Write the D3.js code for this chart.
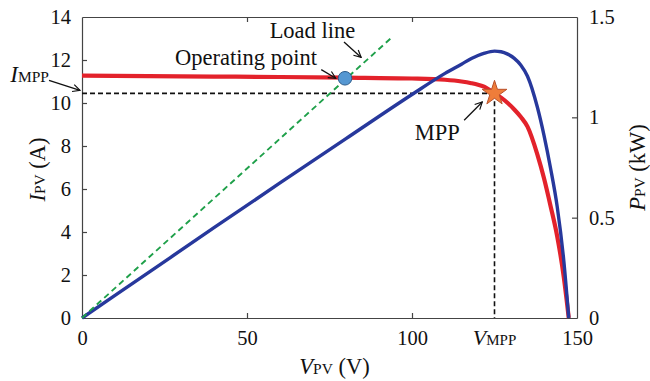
<!DOCTYPE html>
<html>
<head>
<meta charset="utf-8">
<script src="https://cdn.jsdelivr.net/npm/d3@7"></script>
<style>
  body { margin: 0; background: #fff; }
  svg text { font-family: "Liberation Serif", serif; }
</style>
</head>
<body>
<div class="responsive-svg-container"></div>
<script>
// values
const voltage = [0, 20, 40, 60, 80, 100, 110, 115, 118, 120, 122, 125, 127, 129, 131, 133, 135, 138, 140, 142, 144, 146, 147.5];
const current = [11.27, 11.25, 11.23, 11.21, 11.18, 11.14, 11.08, 11.0, 10.92, 10.85, 10.75, 10.45, 10.25, 10.0, 9.7, 9.35, 8.9, 7.6, 6.5, 5.2, 3.8, 1.9, 0];
const power   = [0, 0.225, 0.45, 0.673, 0.894, 1.114, 1.219, 1.265, 1.293, 1.308, 1.32, 1.33, 1.327, 1.315, 1.294, 1.26, 1.205, 1.05, 0.91, 0.745, 0.555, 0.285, 0];

const loadLine = [[0, 0], [93.5, 13.0]];   // V, A
const operatingPoint = [79.7, 11.15];
const mpp = [125, 10.45];

const xTicks = [0, 50, 100, 150];
const yLeftTicks = [0, 2, 4, 6, 8, 10, 12, 14];
const yRightTicks = [0, 0.5, 1, 1.5];

const width = 650, height = 381;
const margin = {top: 17, bottom: 63, left: 82, right: 73};
const serif = "Liberation Serif, serif";

const svg = d3.select(".responsive-svg-container")
  .append("svg")
  .attr("width", width)
  .attr("height", height)
  .attr("viewBox", `0 0 ${width} ${height}`);

const xScale = d3.scaleLinear().domain([0, 150]).range([margin.left, width - margin.right]);
const yScale = d3.scaleLinear().domain([0, 14]).range([height - margin.bottom, margin.top]);
const pScale = d3.scaleLinear().domain([0, 1.5]).range([height - margin.bottom, margin.top]);

const ivData = voltage.map((v, i) => ({v: v, i: current[i]}));
const pvData = voltage.map((v, i) => ({v: v, p: power[i]}));

// arrow marker
svg.append("defs").append("marker")
  .attr("id", "arrow")
  .attr("viewBox", "0 0 10 10")
  .attr("refX", 9).attr("refY", 5)
  .attr("markerWidth", 9).attr("markerHeight", 9)
  .attr("markerUnits", "userSpaceOnUse")
  .attr("orient", "auto")
  .append("path")
  .attr("d", "M1,1 L9,5 L1,9")
  .attr("fill", "none")
  .attr("stroke", "#111")
  .attr("stroke-width", 1.3);

// axes (MATLAB style box, ticks inward)
const tickLen = 5;
const axisColor = "#444";
const fs = 20.5;

const bottomAxis = d3.axisBottom(xScale).tickValues(xTicks).tickSizeInner(-tickLen).tickSizeOuter(0).tickPadding(12);
const topAxis = d3.axisTop(xScale).tickValues(xTicks).tickSizeInner(-tickLen).tickSizeOuter(0).tickFormat("");
const leftAxis = d3.axisLeft(yScale).tickValues(yLeftTicks).tickSizeInner(-tickLen).tickSizeOuter(0).tickPadding(11);
const rightAxis = d3.axisRight(pScale).tickValues(yRightTicks).tickSizeInner(-tickLen).tickSizeOuter(0).tickPadding(12)
  .tickFormat(d => d);

svg.append("g").attr("transform", `translate(0,${height - margin.bottom})`).call(bottomAxis);
svg.append("g").attr("transform", `translate(0,${margin.top})`).call(topAxis);
svg.append("g").attr("transform", `translate(${margin.left},0)`).call(leftAxis);
svg.append("g").attr("transform", `translate(${width - margin.right},0)`).call(rightAxis);

svg.selectAll(".domain, .tick line").attr("stroke", axisColor).attr("stroke-width", 1.2);
svg.selectAll(".tick text")
  .attr("font-size", fs)
  .attr("font-family", serif)
  .attr("fill", "#111");
// hide the end ticks touching the corners
svg.selectAll(".tick line").filter(d => d === 0 || d === 150 || d === 14 || d === 1.5).remove();

// V_MPP label on the x axis
const vmppLabel = svg.append("text")
  .attr("x", xScale(mpp[0]))
  .attr("y", height - margin.bottom + 27)
  .attr("text-anchor", "middle")
  .attr("font-family", serif)
  .attr("fill", "#111");
vmppLabel.append("tspan").attr("font-style", "italic").attr("font-size", 22).text("V");
vmppLabel.append("tspan").attr("font-size", 15).text("MPP");

// MPP dashed guides
svg.append("line")
  .attr("x1", xScale(0)).attr("x2", xScale(mpp[0]))
  .attr("y1", yScale(mpp[1])).attr("y2", yScale(mpp[1]))
  .attr("stroke", "#111").attr("stroke-width", 1.6).attr("stroke-dasharray", "5,3");
svg.append("line")
  .attr("x1", xScale(mpp[0])).attr("x2", xScale(mpp[0]))
  .attr("y1", yScale(mpp[1])).attr("y2", yScale(0))
  .attr("stroke", "#111").attr("stroke-width", 1.6).attr("stroke-dasharray", "5,3");

// I-V curve
const ivLine = d3.line().x(d => xScale(d.v)).y(d => yScale(d.i)).curve(d3.curveMonotoneX);
svg.append("path")
  .attr("d", ivLine(ivData))
  .attr("fill", "none")
  .attr("stroke", "#e3222b")
  .attr("stroke-width", 4.2);

// P-V curve
const pvLine = d3.line().x(d => xScale(d.v)).y(d => pScale(d.p)).curve(d3.curveMonotoneX);
svg.append("path")
  .attr("d", pvLine(pvData))
  .attr("fill", "none")
  .attr("stroke", "#27389c")
  .attr("stroke-width", 3.4);

// load line
svg.append("line")
  .attr("x1", xScale(loadLine[0][0])).attr("y1", yScale(loadLine[0][1]))
  .attr("x2", xScale(loadLine[1][0])).attr("y2", yScale(loadLine[1][1]))
  .attr("stroke", "#1fa04a").attr("stroke-width", 1.9).attr("stroke-dasharray", "6,4");

// operating point
svg.append("circle")
  .attr("cx", xScale(operatingPoint[0]))
  .attr("cy", yScale(operatingPoint[1]))
  .attr("r", 6.8)
  .attr("fill", "#5597d2")
  .attr("stroke", "#2d5d8c")
  .attr("stroke-width", 1);

// MPP star
const star = d3.symbol().type(d3.symbolStar).size(190);
svg.append("path")
  .attr("d", star())
  .attr("transform", `translate(${xScale(mpp[0])},${yScale(mpp[1])})`)
  .attr("fill", "#ef7d3a")
  .attr("stroke", "#b9502a")
  .attr("stroke-width", 1);

// annotations
const annFs = 22.5;
const arrow = (x1, y1, x2, y2) => svg.append("line")
  .attr("x1", x1).attr("y1", y1).attr("x2", x2).attr("y2", y2)
  .attr("stroke", "#111").attr("stroke-width", 1.3)
  .attr("marker-end", "url(#arrow)");

const note = (label, v, i) => svg.append("text").text(label)
  .attr("x", xScale(v)).attr("y", yScale(i))
  .attr("text-anchor", "end")
  .attr("font-family", serif)
  .attr("font-size", annFs)
  .attr("fill", "#111");

note("Load line", 82.8, 13.02);
arrow(xScale(79.4), yScale(12.84), xScale(84.6), yScale(12.12));

note("Operating point", 71.2, 11.77);
arrow(xScale(72.5), yScale(11.55), xScale(76.9), yScale(11.15));

note("MPP", 114.5, 8.3);
arrow(xScale(115.8), yScale(9.2), xScale(121.3), yScale(10.05));

const impp = svg.append("text")
  .attr("x", xScale(0) - 33).attr("y", yScale(mpp[1]) - 11)
  .attr("text-anchor", "end")
  .attr("font-family", serif)
  .attr("fill", "#111");
impp.append("tspan").attr("font-style", "italic").attr("font-size", 23).text("I");
impp.append("tspan").attr("font-size", 15.5).text("MPP");
arrow(xScale(0) - 33, yScale(mpp[1]) - 13, xScale(0) - 2, yScale(mpp[1]) - 3);

// axis titles
const title = (sel, sym, unit) => {
  sel.attr("text-anchor", "middle").attr("font-family", serif).attr("fill", "#111");
  sel.append("tspan").attr("font-style", "italic").attr("font-size", 22.5).text(sym);
  sel.append("tspan").attr("font-size", 15.5).text("PV");
  sel.append("tspan").attr("font-size", 22.5).text(unit);
};

title(svg.append("text")
  .attr("x", (xScale(0) + xScale(150)) / 2 + 5)
  .attr("y", height - 7), "V", " (V)");

title(svg.append("text")
  .attr("transform", `translate(45,${(yScale(0) + yScale(14)) / 2 + 2}) rotate(-90)`), "I", " (A)");

title(svg.append("text")
  .attr("transform", `translate(645,${(pScale(0) + pScale(1.5)) / 2}) rotate(-90)`), "P", " (kW)");
</script>
</body>
</html>
